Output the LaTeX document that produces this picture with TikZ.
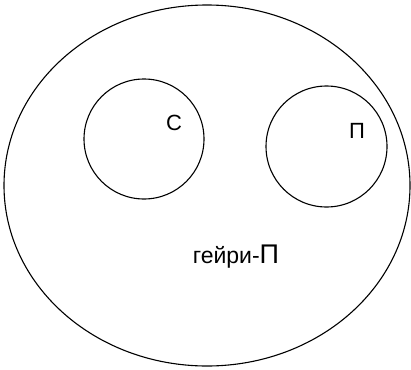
\documentclass[tikz,border=0pt]{standalone}
\usepackage{fontspec}
\setmainfont{Liberation Sans}
\begin{document}
\begin{tikzpicture}[x=1pt,y=-1pt,
  setline/.style={draw=black,line width=1.1pt},
  lbl/.style={inner sep=0pt,anchor=base,font=\fontsize{22}{24}\selectfont}]
\useasboundingbox (0,0) rectangle (411,369);
\draw[setline] (207,185.5) ellipse [x radius=203,y radius=180.5];
\node[setline,circle,minimum size=120pt,inner sep=0pt] (c1) at (144,139) {};
\node[setline,circle,minimum size=121pt,inner sep=0pt] (c2) at (326.5,146.5) {};
\node[lbl] (s) at (174,130) {С};
\node[lbl] (p) at (357,138) {П};
\node[lbl,font=\fontsize{23}{25}\selectfont] (g) at (236,263) {гейри-{\fontsize{27}{29}\selectfont П}};
\end{tikzpicture}
\end{document}
